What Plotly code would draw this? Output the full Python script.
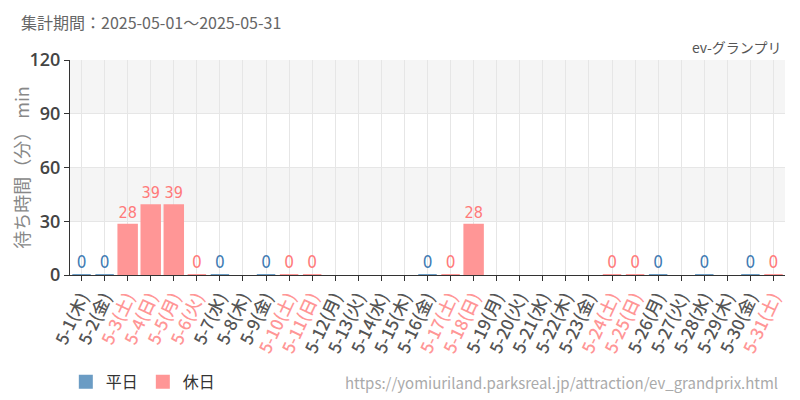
import plotly.graph_objects as go

days = [f"5-{d}" for d in range(1, 32)]
weekdays_jp = ["木","金","土","日","月","火","水","木","金","土","日","月","火","水","木","金","土","日","月","火","水","木","金","土","日","月","火","水","木","金","土"]
holiday = [False, False, True, True, True, True, False, False, False, True, True, False, False, False, False, False,
           True, True, False, False, False, False, False, True, True, False, False, False, False, False, True]
values = [0, 0, 28, 39, 39, 0, 0, None, 0, 0, 0, None, None, None, None, 0,
          0, 28, None, None, None, None, None, 0, 0, 0, None, 0, None, 0, 0]

WK_BAR = "#6b9cc4"
HO_BAR = "#ff9696"
WK_TXT = "#3f7bb3"
HO_TXT = "#ff7a7a"
NARROW = "DejaVu Sans Condensed, Roboto Condensed, Liberation Sans Narrow, Arial Narrow, sans-serif"

wk_y = [v if (v is not None and not h) else None for v, h in zip(values, holiday)]
ho_y = [v if (v is not None and h) else None for v, h in zip(values, holiday)]

def txt(ys):
    return [("" if y is None else str(y)) for y in ys]

fig = go.Figure()
fig.add_trace(go.Bar(x=days, y=wk_y, name="平日", marker=dict(color=WK_BAR, line=dict(color=WK_BAR, width=2)),
                     width=0.8, text=txt(wk_y), textposition="outside", cliponaxis=False,
                     textfont=dict(color=WK_TXT, size=17, family=NARROW)))
fig.add_trace(go.Bar(x=days, y=ho_y, name="休日", marker=dict(color=HO_BAR, line=dict(color=HO_BAR, width=2)),
                     width=0.8, text=txt(ho_y), textposition="outside", cliponaxis=False,
                     textfont=dict(color=HO_TXT, size=17, family=NARROW)))

ticktext = []
for d, w, h in zip(days, weekdays_jp, holiday):
    c = HO_BAR if h else "#555555"
    ticktext.append(f"<span style='color:{c}'>{d}({w})</span>")

shapes = []
for y0, y1 in [(30, 60), (90, 120)]:
    shapes.append(dict(type="rect", xref="paper", yref="y", x0=0, x1=1, y0=y0, y1=y1,
                       fillcolor="#f5f5f5", line=dict(width=0), layer="below"))

fig.update_layout(
    width=792, height=392,
    margin=dict(l=62, r=15, t=52, b=125),
    paper_bgcolor="white", plot_bgcolor="white",
    barmode="overlay",
    font=dict(family="Noto Sans CJK JP, Noto Sans, sans-serif", color="#444"),
    shapes=shapes,
    showlegend=True,
    legend=dict(orientation="h", x=0.073, y=0.046, xref="container", yref="container", xanchor="left", yanchor="middle",
                font=dict(size=16, color="#333"), itemwidth=30),
    xaxis=dict(tickmode="array", tickvals=days, ticktext=ticktext, tickangle=-65, automargin=False,
               showgrid=True, gridcolor="#e6e6e6", showline=True, linecolor="#333", linewidth=1,
               ticks="outside", ticklen=5, tickcolor="#333",
               tickfont=dict(size=17, family="Noto Sans CJK JP, Noto Sans, sans-serif", weight=500),
               range=[-0.5, 30.5]),
    yaxis=dict(range=[0, 120], tickvals=[0, 30, 60, 90, 120], showgrid=True, gridcolor="#e6e6e6", automargin=False,
               showline=True, linecolor="#333", linewidth=1, ticks="outside", ticklen=5, tickcolor="#333",
               tickfont=dict(size=18, color="#444", family="Open Sans, Noto Sans, sans-serif", weight=600),
               zeroline=False,
               title=dict(text="待ち時間（分） min", font=dict(size=18, color="#888"), standoff=10)),
    annotations=[
        dict(text="集計期間：2025-05-01～2025-05-31", xref="paper", yref="paper", x=-0.072, y=1.0, yshift=38,
             xanchor="left", yanchor="middle", showarrow=False, font=dict(size=16, color="#666")),
        dict(text="ev-グランプリ", xref="paper", yref="paper", x=0.997, y=1.0, yshift=13,
             xanchor="right", yanchor="middle", showarrow=False, font=dict(size=14, color="#555")),
        dict(text="https://yomiuriland.parksreal.jp/attraction/ev_grandprix.html", xref="paper", yref="paper",
             x=0.993, y=-0.498, xanchor="right", yanchor="middle", showarrow=False, font=dict(size=15, color="#aaa")),
    ],
)
fig.write_html("out.html")
